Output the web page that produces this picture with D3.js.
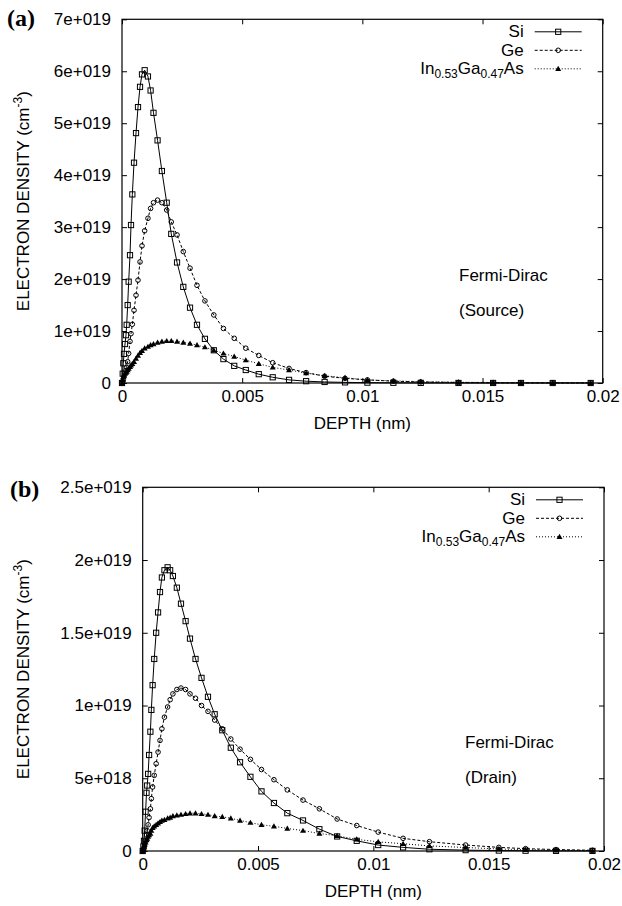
<!DOCTYPE html>
<html>
<head>
<meta charset="utf-8">
<script src="https://cdn.jsdelivr.net/npm/d3@7"></script>
<style>
  body { margin: 0; background: #fff; }
  text { font-family: "Liberation Sans", Arial, sans-serif; fill: #000; }
  text.tag { font-family: "Liberation Serif", "Times New Roman", serif; font-weight: bold; }
</style>
</head>
<body>
<div id="chart"></div>
<script>
const W = 622, H = 906;

// depth mesh (nm), shared by every series
const depth = [0, 0.00003, 0.000055, 0.000083, 0.000125, 0.000166, 0.000194, 0.000236, 0.000277, 0.000333,
  0.000375, 0.00043, 0.0005, 0.000583, 0.000666, 0.00075, 0.000832, 0.000943, 0.00108, 0.00119,
  0.00131, 0.00148, 0.00166, 0.00186, 0.00205, 0.00229, 0.00255, 0.00283, 0.00312, 0.00345,
  0.00382, 0.00422, 0.00467, 0.00515, 0.00569, 0.00627, 0.00695, 0.00766, 0.00843, 0.00928,
  0.01021, 0.01129, 0.01243, 0.0140, 0.01544, 0.0166, 0.01792, 0.0195];

// electron density in units of 1e19 cm^-3
// (a) source
const siA = [0, 0.18, 0.38, 0.56, 0.75, 0.92, 1.12, 1.50, 1.95, 2.46,
  3.04, 3.63, 4.24, 4.81, 5.31, 5.70, 5.94, 6.02, 5.90, 5.63,
  5.20, 4.67, 4.08, 3.47, 2.87, 2.32, 1.85, 1.45, 1.12, 0.85,
  0.63, 0.46, 0.33, 0.25, 0.17, 0.11, 0.06, 0.035, 0.02, 0.012,
  0.007, 0.004, 0.002, 0.001, 0.0005, 0.0003, 0.0002, 0.0001];
const geA = [0, 0.03, 0.07, 0.12, 0.19, 0.24, 0.30, 0.41, 0.57, 0.80,
  0.95, 1.13, 1.40, 1.69, 1.98, 2.33, 2.64, 2.93, 3.17, 3.36,
  3.47, 3.52, 3.47, 3.33, 3.10, 2.85, 2.53, 2.21, 1.88, 1.58,
  1.31, 1.05, 0.86, 0.67, 0.53, 0.39, 0.28, 0.20, 0.13, 0.09,
  0.06, 0.035, 0.02, 0.01, 0.006, 0.004, 0.003, 0.002];
const inA = [0, 0.06, 0.12, 0.15, 0.18, 0.20, 0.22, 0.25, 0.28, 0.31,
  0.34, 0.37, 0.41, 0.47, 0.53, 0.58, 0.62, 0.67, 0.70, 0.73,
  0.75, 0.78, 0.80, 0.81, 0.81, 0.80, 0.78, 0.76, 0.73, 0.69,
  0.63, 0.57, 0.51, 0.44, 0.37, 0.30, 0.25, 0.19, 0.14, 0.10,
  0.06, 0.04, 0.025, 0.015, 0.01, 0.006, 0.004, 0.002];
// (b) drain
const siB = [0, 0.03, 0.07, 0.14, 0.27, 0.40, 0.45, 0.53, 0.66, 0.82,
  0.97, 1.14, 1.32, 1.50, 1.64, 1.78, 1.88, 1.93, 1.95, 1.93,
  1.89, 1.81, 1.70, 1.58, 1.46, 1.32, 1.19, 1.06, 0.94, 0.83,
  0.71, 0.61, 0.51, 0.41, 0.33, 0.26, 0.21, 0.15, 0.10, 0.07,
  0.041, 0.025, 0.012, 0.006, 0.003, 0.002, 0.001, 0.0005];
const geB = [0, 0.01, 0.025, 0.04, 0.07, 0.11, 0.14, 0.18, 0.23, 0.29,
  0.36, 0.44, 0.52, 0.60, 0.68, 0.76, 0.84, 0.92, 0.99, 1.04,
  1.08, 1.11, 1.12, 1.11, 1.08, 1.05, 1.00, 0.96, 0.90, 0.84,
  0.77, 0.70, 0.63, 0.56, 0.49, 0.42, 0.35, 0.29, 0.22, 0.175,
  0.13, 0.087, 0.064, 0.041, 0.025, 0.016, 0.01, 0.005];
const inB = [0, 0.015, 0.03, 0.045, 0.06, 0.076, 0.085, 0.10, 0.11, 0.12,
  0.14, 0.16, 0.17, 0.18, 0.19, 0.20, 0.21, 0.215, 0.225, 0.23,
  0.24, 0.245, 0.25, 0.255, 0.26, 0.26, 0.255, 0.25, 0.24, 0.235,
  0.225, 0.21, 0.195, 0.18, 0.17, 0.155, 0.14, 0.12, 0.105, 0.08,
  0.063, 0.05, 0.035, 0.024, 0.014, 0.009, 0.005, 0.003];

const xTicks = [0, 0.005, 0.01, 0.015, 0.02];
const xTickLabels = ['0', '0.005', '0.01', '0.015', '0.02'];
const yTicksA = [0, 1, 2, 3, 4, 5, 6, 7];
const yTickLabelsA = ['0', '1e+019', '2e+019', '3e+019', '4e+019', '5e+019', '6e+019', '7e+019'];
const yTicksB = [0, 0.5, 1, 1.5, 2, 2.5];
const yTickLabelsB = ['0', '5e+018', '1e+019', '1.5e+019', '2e+019', '2.5e+019'];

const svg = d3.select('#chart').append('svg')
  .attr('width', W)
  .attr('height', H);

function marker(sel, type) {
  if (type === 'square') {
    sel.append('rect')
      .attr('x', -2.6).attr('y', -2.6)
      .attr('width', 5.2).attr('height', 5.2)
      .attr('fill', 'none').attr('stroke', '#000').attr('stroke-width', 1);
  } else if (type === 'circle') {
    sel.append('circle')
      .attr('r', 2.3)
      .attr('fill', 'none').attr('stroke', '#000').attr('stroke-width', 1);
  } else {
    sel.append('path')
      .attr('d', 'M0,-3L3,2.2L-3,2.2Z')
      .attr('fill', '#000');
  }
}

function drawPanel(p) {
  const g = svg.append('g');
  const x = d3.scaleLinear().domain([0, 0.02]).range([p.left, p.right]);
  const y = d3.scaleLinear().domain([0, p.yMax]).range([p.bottom, p.top]);

  // axes, gnuplot style: inward ticks mirrored on all sides
  const bottom = g.append('g')
    .attr('transform', `translate(0,${p.bottom})`)
    .call(d3.axisBottom(x).tickValues(xTicks).tickFormat((d, i) => xTickLabels[i])
      .tickSizeInner(-5).tickSizeOuter(0).tickPadding(7));
  const left = g.append('g')
    .attr('transform', `translate(${p.left},0)`)
    .call(d3.axisLeft(y).tickValues(p.yTicks).tickFormat((d, i) => p.yLabels[i])
      .tickSizeInner(-5).tickSizeOuter(0).tickPadding(11));
  g.append('g')
    .attr('transform', `translate(0,${p.top})`)
    .call(d3.axisTop(x).tickValues(xTicks).tickFormat('').tickSizeInner(-5).tickSizeOuter(0));
  g.append('g')
    .attr('transform', `translate(${p.right},0)`)
    .call(d3.axisRight(y).tickValues(p.yTicks).tickFormat('').tickSizeInner(-5).tickSizeOuter(0));
  g.selectAll('.domain').remove();
  g.selectAll('.tick line').attr('stroke', '#000');
  [bottom, left].forEach(a => a.selectAll('text')
    .attr('font-size', 17)
    .attr('fill', '#000'));

  g.append('rect')
    .attr('x', p.left).attr('y', p.top)
    .attr('width', p.right - p.left).attr('height', p.bottom - p.top)
    .attr('fill', 'none').attr('stroke', '#000').attr('stroke-width', 1.2);

  const line = d3.line().x(d => x(d[0])).y(d => y(d[1]));

  p.series.forEach(s => {
    const pts = depth.map((d, i) => [d, s.vals[i]]);
    g.append('path')
      .datum(pts)
      .attr('fill', 'none')
      .attr('stroke', '#000')
      .attr('stroke-width', 1)
      .attr('stroke-dasharray', s.dash)
      .attr('d', line);
    g.selectAll(null)
      .data(pts)
      .join('g')
      .attr('transform', d => `translate(${x(d[0])},${y(d[1])})`)
      .each(function () { marker(d3.select(this), s.marker); });
  });

  // legend
  const lx = p.right - 79;
  p.series.forEach((s, i) => {
    const by = p.top + 18 + i * 18.5;
    const t = g.append('text')
      .attr('x', lx).attr('y', by)
      .attr('text-anchor', 'end')
      .attr('font-size', 17);
    s.label.forEach(part => {
      const ts = t.append('tspan').text(part.t);
      if (part.sub) ts.attr('font-size', 12).attr('dy', 4);
      if (part.up) ts.attr('dy', -4);
    });
    const ly = by - 5.5;
    g.append('line')
      .attr('x1', lx + 11).attr('x2', lx + 58)
      .attr('y1', ly).attr('y2', ly)
      .attr('stroke', '#000').attr('stroke-width', 1)
      .attr('stroke-dasharray', s.dash);
    g.append('g')
      .attr('transform', `translate(${lx + 34.5},${ly})`)
      .call(sel => marker(sel, s.marker));
  });

  // annotation
  g.append('text').attr('x', p.noteX).attr('y', p.noteY).attr('font-size', 17).text('Fermi-Dirac');
  g.append('text').attr('x', p.noteX).attr('y', p.noteY + 35).attr('font-size', 17).text(p.note);

  // axis titles
  g.append('text')
    .attr('x', (p.left + p.right) / 2).attr('y', p.bottom + 46)
    .attr('text-anchor', 'middle').attr('font-size', 17)
    .text('DEPTH (nm)');
  const yl = g.append('text')
    .attr('transform', `translate(29,${(p.top + p.bottom) / 2}) rotate(-90)`)
    .attr('text-anchor', 'middle').attr('font-size', 17);
  yl.append('tspan').text('ELECTRON DENSITY (cm');
  yl.append('tspan').attr('font-size', 12).attr('dy', -7).text('-3');
  yl.append('tspan').attr('dy', 7).text(')');

  // panel tag
  g.append('text')
    .attr('class', 'tag')
    .attr('x', p.tagX).attr('y', p.tagY)
    .attr('font-size', 24)
    .text(p.tag);
}

const labels = {
  si: [{ t: 'Si' }],
  ge: [{ t: 'Ge' }],
  ingaas: [{ t: 'In' }, { t: '0.53', sub: true }, { t: 'Ga', up: true }, { t: '0.47', sub: true }, { t: 'As', up: true }]
};

drawPanel({
  left: 122, right: 602.7, top: 19.3, bottom: 383,
  yMax: 7, yTicks: yTicksA, yLabels: yTickLabelsA,
  series: [
    { vals: siA, dash: null, marker: 'square', label: labels.si },
    { vals: geA, dash: '3,2', marker: 'circle', label: labels.ge },
    { vals: inA, dash: '1,2', marker: 'triangle', label: labels.ingaas }
  ],
  note: '(Source)', noteX: 459, noteY: 281,
  tag: '(a)', tagX: 7, tagY: 26
});

drawPanel({
  left: 142.7, right: 604, top: 487.3, bottom: 851,
  yMax: 2.5, yTicks: yTicksB, yLabels: yTickLabelsB,
  series: [
    { vals: siB, dash: null, marker: 'square', label: labels.si },
    { vals: geB, dash: '3,2', marker: 'circle', label: labels.ge },
    { vals: inB, dash: '1,2', marker: 'triangle', label: labels.ingaas }
  ],
  note: '(Drain)', noteX: 465, noteY: 748,
  tag: '(b)', tagX: 10, tagY: 497
});
</script>
</body>
</html>
